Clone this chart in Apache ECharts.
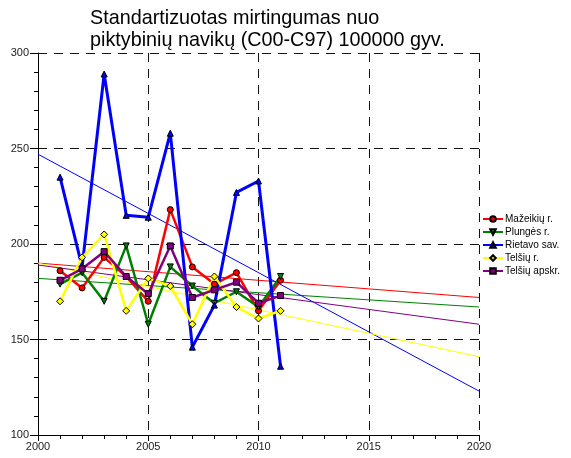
<!DOCTYPE html>
<html>
<head>
<meta charset="utf-8">
<script src="https://cdn.jsdelivr.net/npm/echarts@6/dist/echarts.min.js"></script>
<style>
  html, body { margin: 0; padding: 0; background: #fff; }
  #chart { width: 571px; height: 458px; }
</style>
</head>
<body>
<div id="chart"></div>
<script>
// metai ir rodikliai
var years = [2001, 2002, 2003, 2004, 2005, 2006, 2007, 2008, 2009, 2010, 2011];
var names = ['Mažeikių r.', 'Plungės r.', 'Rietavo sav.', 'Telšių r.', 'Telšių apskr.'];
var mazeikiai = [186, 177, 193, 183, 170, 218, 188, 179, 185, 165, 181];
var plunge = [179, 185, 170, 199, 158, 188, 178, 169, 175, 167, 183];
var rietavas = [235, 188, 289, 215, 214, 258, 146, 168, 227, 233, 136];
var telsiaiR = [170, 193, 205, 165, 182, 178, 158, 183, 167, 161, 165];
var telsiuApskr = [181, 187, 196, 183, 174, 199, 172, 176, 180, 169, 173];
// trendu linijos (2000 ir 2020 m. reiksmes)
var trendYears = [2000, 2020];
var trendMaz = [190, 172];
var trendPlu = [182, 167];
var trendRie = [247, 123];
var trendTel = [190, 141];
var trendApskr = [189, 158];

var colors = ['#ff0000', '#008000', '#0000ff', '#ffff00', '#800080'];
var symbols = ['circle', 'path://M0,0 L10,0 L5,9 Z', 'triangle', 'diamond', 'rect'];
var values = [mazeikiai, plunge, rietavas, telsiaiR, telsiuApskr];
var trends = [trendMaz, trendPlu, trendRie, trendTel, trendApskr];

function pairs(xs, ys) {
  var out = [];
  for (var i = 0; i < xs.length; i++) out.push([xs[i], ys[i]]);
  return out;
}

var series = [];
for (var k = 0; k < names.length; k++) {
  series.push({
    name: 'trend' + k,
    type: 'line',
    data: pairs(trendYears, trends[k]),
    symbol: 'none',
    silent: true,
    lineStyle: { color: colors[k], width: 1 },
    z: 1
  });
}
for (var k = 0; k < names.length; k++) {
  series.push({
    name: names[k],
    type: 'line',
    data: pairs(years, values[k]),
    symbol: symbols[k],
    symbolSize: k == 3 ? 7 : 6,
    showAllSymbol: true,
    color: colors[k],
    lineStyle: { color: colors[k], width: k == 2 ? 3 : 2.5 },
    itemStyle: { color: colors[k], borderColor: '#000', borderWidth: 1 },
    z: 3
  });
}

var myChart = echarts.init(document.getElementById('chart'));
var option = {
  backgroundColor: '#fff',
  animation: false,
  title: {
    text: 'Standartizuotas mirtingumas nuo\npiktybinių navikų (C00-C97) 100000 gyv.',
    left: 85,
    top: 3,
    textStyle: {
      fontFamily: 'Liberation Sans, Arial, sans-serif',
      fontSize: 19.8,
      fontWeight: 'normal',
      color: '#000',
      lineHeight: 22
    }
  },
  legend: {
    data: names,
    orient: 'vertical',
    left: 477,
    top: 209,
    itemWidth: 20,
    itemHeight: 7,
    itemGap: 3,
    textStyle: {
      fontFamily: 'Liberation Sans, Arial, sans-serif',
      fontSize: 10,
      color: '#000',
      padding: [0, 0, 0, -3]
    }
  },
  grid: { left: 38, top: 53, width: 441, height: 382 },
  xAxis: {
    type: 'value',
    min: 2000,
    max: 2020,
    interval: 5,
    axisLine: { lineStyle: { color: '#000', width: 1 } },
    axisTick: { show: true, length: 6, lineStyle: { color: '#000' } },
    minorTick: { show: true, splitNumber: 5, length: 4, lineStyle: { color: '#000' } },
    axisLabel: {
      color: '#222',
      fontFamily: 'Liberation Sans, Arial, sans-serif',
      fontSize: 11,
      margin: 6,
      formatter: function (v) { return String(v); }
    },
    splitLine: { show: true, lineStyle: { color: '#111', type: [9, 7], width: 1 } }
  },
  yAxis: {
    type: 'value',
    min: 100,
    max: 300,
    interval: 50,
    axisLine: { show: true, lineStyle: { color: '#000', width: 1 } },
    axisTick: { show: true, length: 8, lineStyle: { color: '#000' } },
    minorTick: { show: true, splitNumber: 5, length: 4, lineStyle: { color: '#000' } },
    axisLabel: {
      color: '#222',
      fontFamily: 'Liberation Sans, Arial, sans-serif',
      fontSize: 11,
      margin: 9
    },
    splitLine: { show: true, lineStyle: { color: '#111', type: [9, 7], width: 1 } }
  },
  series: series
};
myChart.setOption(option);
</script>
</body>
</html>
